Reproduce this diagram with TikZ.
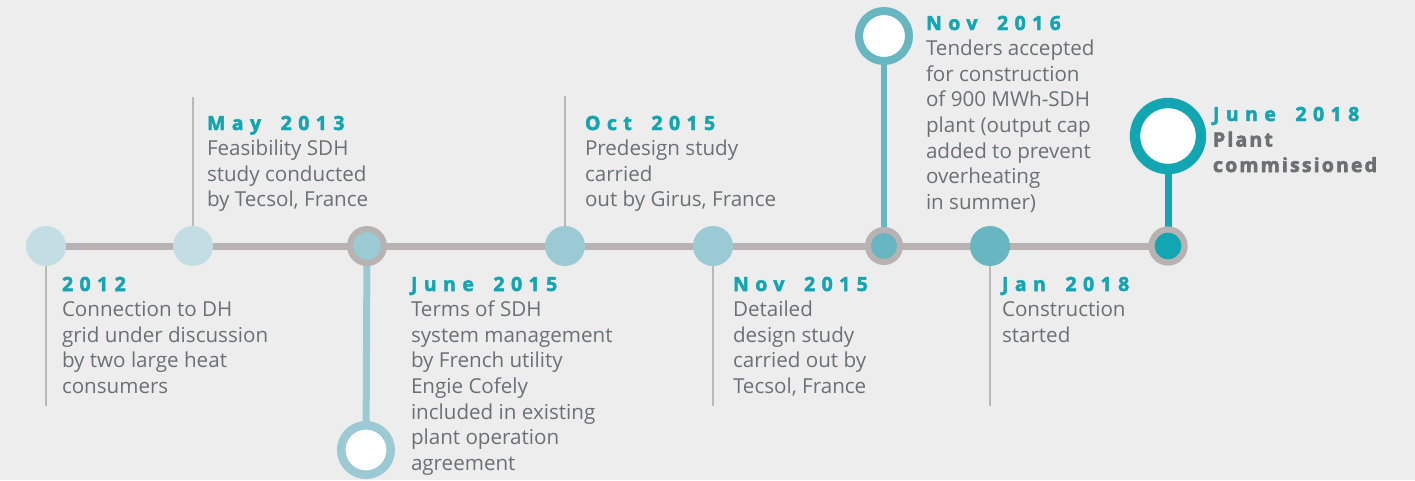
\documentclass[tikz,border=0pt]{standalone}
\usepackage{fontspec}
\setmainfont{Open Sans}
\newfontfamily\bodyfont{Open Sans}
\newfontfamily\titlefont[LetterSpace=33,WordSpace=1.7,FakeBold=2.5]{Open Sans Bold}
\newfontfamily\heavyfont[LetterSpace=11,FakeBold=3]{Open Sans Bold}
\usetikzlibrary{backgrounds}
\definecolor{bgc}{HTML}{EDEDED}
\definecolor{axisc}{HTML}{B8B2B2}
\definecolor{stemc}{HTML}{BDB8B8}
\definecolor{tealA}{HTML}{C2DEE4}
\definecolor{tealB}{HTML}{9BCAD4}
\definecolor{tealC}{HTML}{67B6C2}
\definecolor{tealD}{HTML}{12A6B3}
\definecolor{titlec}{HTML}{13A5B2}
\definecolor{bodyc}{HTML}{6B7172}
% one event: spaced bold date, then lines of body text
\newcommand{\tline}[1]{\hbox{#1}}
\newcommand{\tlentry}[2]{\vtop{\baselineskip=25.6pt\lineskiplimit=-20pt
  \hbox{\titlefont\fontsize{19.5}{25.6}\selectfont\color{titlec}#1}%
  \bodyfont\fontsize{20.6}{25.6}\selectfont\color{bodyc}#2}}
\pgfdeclarelayer{canvas}
\pgfsetlayers{canvas,background,main}
\tikzset{
  dot/.style={circle, inner sep=0pt, minimum size=40pt},
  ringdot/.style={circle, inner sep=0pt, draw=axisc, line width=6pt, minimum size=34pt},
  bigring/.style={circle, inner sep=0pt, fill=white},
  axisline/.style={draw=axisc, line width=7pt},
  thinstem/.style={draw=stemc, line width=2.8pt},
  event/.style={anchor=base west, inner sep=0pt, outer sep=0pt},
}
\begin{document}
\begin{tikzpicture}[x=1pt, y=-1pt]
\begin{pgfonlayer}{canvas}
  \fill[bgc] (0,0) rectangle (1415,480);
\end{pgfonlayer}
\useasboundingbox (0,0) rectangle (1415,480);

% timeline markers
\node[dot, fill=tealA] (m1) at (46,246) {};
\node[dot, fill=tealA] (m2) at (193,246) {};
\node[ringdot, fill=tealB] (m3) at (367,246) {};
\node[dot, fill=tealB] (m4) at (565,246) {};
\node[dot, fill=tealB] (m5) at (713,246) {};
\node[ringdot, fill=tealC, minimum size=32pt] (m6) at (884,246) {};
\node[dot, fill=tealC] (m7) at (990,246) {};
\node[ringdot, fill=tealD, minimum size=33pt, line width=6.2pt] (m8) at (1168,246) {};

% milestone rings
\node[bigring, draw=tealB, line width=8.5pt, minimum size=49.5pt] (e3) at (366,450) {};
\node[bigring, draw=tealC, line width=8pt, minimum size=50pt] (e6) at (884,36) {};
\node[bigring, draw=tealD, line width=10.4pt, minimum size=66pt] (e8) at (1168,136) {};

% free ends of the thin stems
\coordinate (s1) at (46,406);
\coordinate (s2) at (193,97);
\coordinate (s4) at (565,96);
\coordinate (s5) at (713,406);
\coordinate (s7) at (990,406);

\begin{pgfonlayer}{background}
  \draw[axisline] (m1.center) -- (m8.center);
  \draw[thinstem] (m1.center) -- (s1);
  \draw[thinstem] (m2.center) -- (s2);
  \draw[thinstem] (m4.center) -- (s4);
  \draw[thinstem] (m5.center) -- (s5);
  \draw[thinstem] (m7.center) -- (s7);
  \draw[draw=tealB, line width=7pt] (m3.center) -- (e3.center);
  \draw[draw=tealC, line width=6.7pt] (m6.center) -- (e6.center);
  \draw[draw=tealD, line width=7pt] (m8.center) -- (e8.center);
\end{pgfonlayer}

% event texts
\node[event] (t1) at (62,291) {\tlentry{2012}{\tline{Connection to DH}\tline{grid under discussion}\tline{by two large heat}\tline{consumers}}};
\node[event] (t2) at (207,130) {\tlentry{May 2013}{\tline{Feasibility SDH}\tline{study conducted}\tline{by Tecsol, France}}};
\node[event] (t3) at (411,291) {\tlentry{June 2015}{\tline{Terms of SDH}\tline{system management}\tline{by French utility}\tline{Engie Cofely}\tline{included in existing}\tline{plant operation}\tline{agreement}}};
\node[event] (t4) at (585,130) {\tlentry{Oct 2015}{\tline{Predesign study}\tline{carried}\tline{out by Girus, France}}};
\node[event] (t5) at (733,291) {\tlentry{Nov 2015}{\tline{Detailed}\tline{design study}\tline{carried out by}\tline{Tecsol, France}}};
\node[event] (t6) at (926,30) {\tlentry{Nov 2016}{\tline{Tenders accepted}\tline{for construction}\tline{of 900 MWh-SDH}\tline{plant (output cap}\tline{added to prevent}\tline{overheating}\tline{in summer)}}};
\node[event] (t7) at (1002,291) {\tlentry{Jan 2018}{\tline{Construction}\tline{started}}};
\node[event] (t8) at (1213,121) {\vtop{\baselineskip=25.5pt\lineskiplimit=-20pt
  \hbox{\titlefont\fontsize{19.5}{25.5}\selectfont\color{titlec}June 2018}%
  \heavyfont\fontsize{19.5}{25.5}\selectfont\color{bodyc}\tline{Plant}\tline{commissioned}}};
\end{tikzpicture}
\end{document}
